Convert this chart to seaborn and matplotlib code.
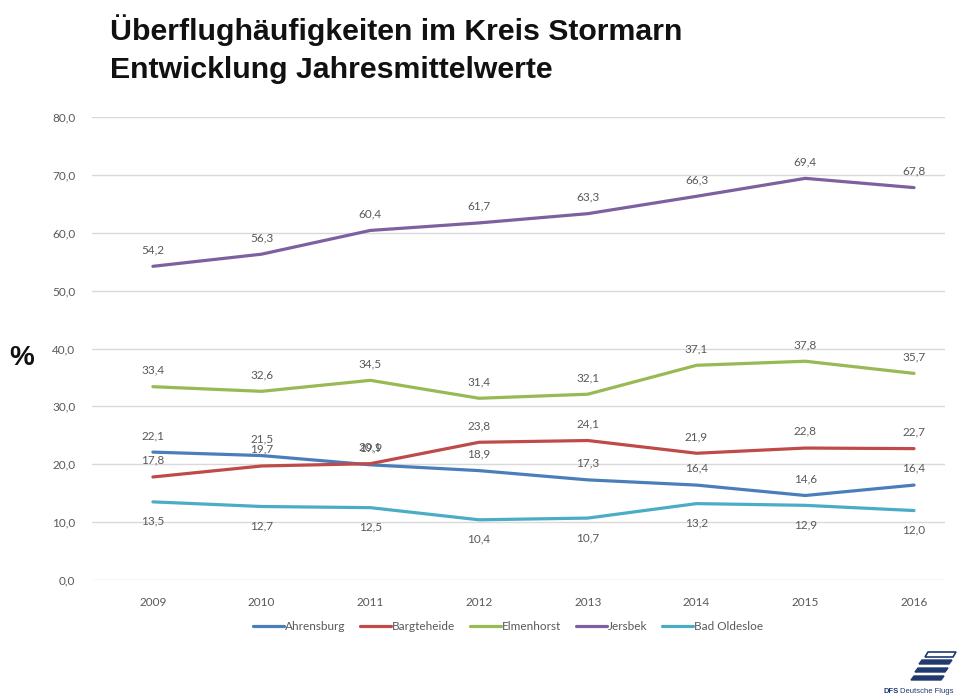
import pandas as pd
import numpy as np
import matplotlib
matplotlib.use('Agg')
import matplotlib.pyplot as plt
from matplotlib.patches import Polygon
import seaborn as sns

sns.set_theme(style='white')
plt.rcParams['font.family'] = ['Lato', 'DejaVu Sans']

# data
years = ['2009', '2010', '2011', '2012', '2013', '2014', '2015', '2016']
ahrensburg = [22.1, 21.5, 19.9, 18.9, 17.3, 16.4, 14.6, 16.4]
bargteheide = [17.8, 19.7, 20.1, 23.8, 24.1, 21.9, 22.8, 22.7]
elmenhorst = [33.4, 32.6, 34.5, 31.4, 32.1, 37.1, 37.8, 35.7]
jersbek = [54.2, 56.3, 60.4, 61.7, 63.3, 66.3, 69.4, 67.8]
bad_oldesloe = [13.5, 12.7, 12.5, 10.4, 10.7, 13.2, 12.9, 12.0]

series = {
    'Ahrensburg': ahrensburg,
    'Bargteheide': bargteheide,
    'Elmenhorst': elmenhorst,
    'Jersbek': jersbek,
    'Bad Oldesloe': bad_oldesloe,
}
colors = ['#4a7ebb', '#be4b48', '#98b954', '#7d60a0', '#4bacc6']
label_below = {'Bad Oldesloe'}

rows = []
for name, vals in series.items():
    for i, v in enumerate(vals):
        rows.append({'Ort': name, 'x': i, 'Jahr': years[i], 'Wert': v})
df = pd.DataFrame(rows)

fig = plt.figure(figsize=(9.59, 6.99), dpi=100)
ax = fig.add_axes([92 / 959, 1 - 580 / 699, (945 - 92) / 959, (580 - 117) / 699])

sns.lineplot(data=df, x='x', y='Wert', hue='Ort', palette=colors,
             linewidth=2.3, ax=ax, legend=True)

# data labels
for name, vals in series.items():
    off = -14 if name in label_below else 12
    for i, v in enumerate(vals):
        ax.annotate(f'{v:.1f}'.replace('.', ','), (i, v),
                    xytext=(0, off), textcoords='offset points',
                    ha='center', va='center', fontsize=8.5, color='#595959')

ax.set_xlim(-0.56, 7.285)
ax.set_ylim(0, 80)
ax.set_yticks(np.arange(0, 81, 10))
ax.set_yticklabels([f'{t:.1f}'.replace('.', ',') for t in np.arange(0, 81, 10)])
ax.set_xticks(range(len(years)))
ax.set_xticklabels(years)
ax.tick_params(axis='both', length=0, labelsize=8.5, labelcolor='#595959')
ax.tick_params(axis='y', pad=12)
ax.tick_params(axis='x', pad=12)
ax.grid(axis='y', color='#d9d9d9', linewidth=1)
for s in ax.spines.values():
    s.set_visible(False)
ax.set_xlabel('')
ax.set_ylabel('')

handles, labels = ax.get_legend_handles_labels()
ax.legend(handles, labels, loc='center', bbox_to_anchor=(0.488, -0.101),
          ncol=5, frameon=False, fontsize=8.5, handlelength=2.6,
          handletextpad=0.1, columnspacing=1.25, labelcolor='#595959')

fig.text(110 / 959, 1 - 40 / 699, 'Überflughäufigkeiten im Kreis Stormarn',
         family='Liberation Sans', fontweight='bold', fontsize=21.8,
         color='#111111', va='baseline')
fig.text(110 / 959, 1 - 78 / 699, 'Entwicklung Jahresmittelwerte',
         family='Liberation Sans', fontweight='bold', fontsize=21.8,
         color='#111111', va='baseline')
fig.text(22 / 959, 1 - 358 / 699, '%', family='Liberation Sans',
         fontweight='bold', fontsize=20, color='#111111',
         ha='center', va='center')

# DFS logo (rough)
def px(x, y):
    return (x / 959, 1 - y / 699)

for y0, x0, x1 in [(660, 922, 952), (668, 918, 948), (676, 914, 944)]:
    fig.patches.append(Polygon([px(x0, y0), px(x1, y0), px(x1 - 3, y0 + 4),
                                px(x0 - 3, y0 + 4)], closed=True,
                               transform=fig.transFigure, color='#1f3a6e'))
fig.patches.append(Polygon([px(928, 652), px(956, 652), px(953, 657), px(925, 657)],
                           closed=True, fill=False, lw=1.2,
                           transform=fig.transFigure, edgecolor='#1f3a6e'))
fig.text(884 / 959, 1 - 693 / 699, 'DFS', family='Liberation Sans',
         fontweight='bold', fontsize=5.5, color='#1f3a6e', va='baseline')
fig.text(900 / 959, 1 - 693 / 699, 'Deutsche Flugs', family='Liberation Sans',
         fontsize=5.5, color='#1f3a6e', va='baseline')

fig.savefig('out.png', dpi=100)
